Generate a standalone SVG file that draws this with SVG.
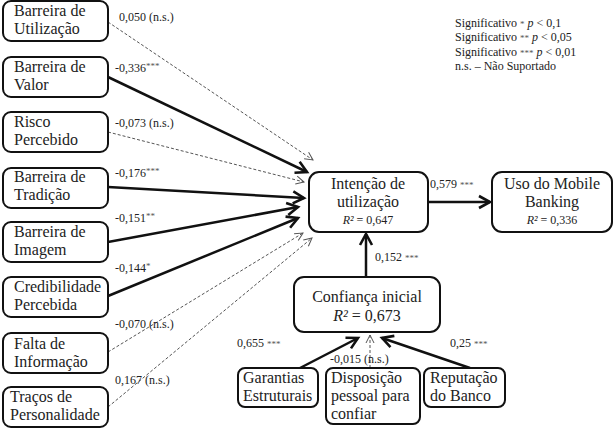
<svg xmlns="http://www.w3.org/2000/svg" width="616" height="435" viewBox="0 0 616 435" font-family="Liberation Serif, serif">
<defs>
<marker id="ah" markerUnits="userSpaceOnUse" markerWidth="16" markerHeight="16" refX="13" refY="7" orient="auto" viewBox="0 0 16 14">
<path d="M2,1 L13,7 L2,13" fill="none" stroke="#111" stroke-width="2.6" stroke-linejoin="miter"/>
</marker>
<marker id="ahd" markerUnits="userSpaceOnUse" markerWidth="12" markerHeight="12" refX="9" refY="5" orient="auto" viewBox="0 0 12 10">
<path d="M1,1 L9,5 L1,9" fill="none" stroke="#555" stroke-width="1"/>
</marker>
</defs>
<style>
text{font-family:'Liberation Serif',serif}
.box{fill:#fff;stroke:#111;stroke-width:2}
.t{font-size:16px;fill:#222}
.c{text-anchor:middle}
.l{font-size:12px;fill:#222}
.r{font-size:12px;fill:#222;text-anchor:middle}
.s{stroke:#111;stroke-width:2.5;fill:none;marker-end:url(#ah)}
.d{stroke:#555;stroke-width:1;stroke-dasharray:3,2;fill:none;marker-end:url(#ahd)}
.st{font-size:9px;fill:#555}
</style>
<rect width="616" height="435" fill="#fff"/>
<g id="connectors">
<line class="d" x1="108" y1="22" x2="313" y2="160"/>
<line class="s" x1="108" y1="77" x2="307" y2="172"/>
<line class="d" x1="108" y1="132" x2="304" y2="182"/>
<line class="s" x1="108" y1="187" x2="304" y2="198"/>
<line class="s" x1="108" y1="242" x2="298" y2="207"/>
<line class="s" x1="108" y1="296" x2="298" y2="218"/>
<line class="d" x1="108" y1="352" x2="303" y2="233"/>
<line class="d" x1="108" y1="407" x2="312" y2="238"/>
<line class="s" x1="428" y1="202" x2="490" y2="202"/>
<line class="s" x1="366" y1="277" x2="366" y2="234"/>
<line class="s" x1="300" y1="368" x2="358" y2="338"/>
<line class="s" x1="470" y1="368" x2="382" y2="338"/>
<line class="d" x1="370" y1="368" x2="370" y2="335"/>
<text class="l" x="119" y="21">0,050 (n.s.)</text>
<text class="l" x="115" y="72">-0,336<tspan class="st" dy="-3">***</tspan></text>
<text class="l" x="115" y="127">-0,073 (n.s.)</text>
<text class="l" x="115" y="177">-0,176<tspan class="st" dy="-3">***</tspan></text>
<text class="l" x="115" y="222">-0,151<tspan class="st" dy="-3">**</tspan></text>
<text class="l" x="115" y="272">-0,144<tspan class="st" dy="-3">*</tspan></text>
<text class="l" x="115" y="328">-0,070 (n.s.)</text>
<text class="l" x="115" y="384">0,167 (n.s.)</text>
<text class="l" x="430" y="188">0,579 <tspan class="st">***</tspan></text>
<text class="l" x="375" y="261">0,152 <tspan class="st">***</tspan></text>
<text class="l" x="237" y="347">0,655 <tspan class="st">***</tspan></text>
<text class="l" x="330" y="363">-0,015 (n.s.)</text>
<text class="l" x="450" y="347">0,25 <tspan class="st">***</tspan></text>
</g>
<g id="barreira-utilizacao"><rect class="box" x="3" y="1" width="105" height="40" rx="8"/><text class="t" x="14" y="16">Barreira de</text><text class="t" x="14" y="34">Utilização</text></g>
<g id="barreira-valor"><rect class="box" x="3" y="57" width="105" height="40" rx="8"/><text class="t" x="14" y="72">Barreira de</text><text class="t" x="14" y="90">Valor</text></g>
<g id="risco-percebido"><rect class="box" x="3" y="112" width="105" height="40" rx="8"/><text class="t" x="14" y="127">Risco</text><text class="t" x="14" y="145">Percebido</text></g>
<g id="barreira-tradicao"><rect class="box" x="3" y="168" width="105" height="40" rx="8"/><text class="t" x="14" y="182">Barreira de</text><text class="t" x="14" y="200">Tradição</text></g>
<g id="barreira-imagem"><rect class="box" x="3" y="222" width="105" height="40" rx="8"/><text class="t" x="14" y="237">Barreira de</text><text class="t" x="14" y="255">Imagem</text></g>
<g id="credibilidade"><rect class="box" x="3" y="277" width="105" height="40" rx="8"/><text class="t" x="14" y="292">Credibilidade</text><text class="t" x="14" y="310">Percebida</text></g>
<g id="falta-informacao"><rect class="box" x="3" y="333" width="105" height="40" rx="8"/><text class="t" x="14" y="349">Falta de</text><text class="t" x="14" y="367">Informação</text></g>
<g id="tracos-personalidade"><rect class="box" x="3" y="387" width="105" height="40" rx="8"/><text class="t" x="10" y="402">Traços de</text><text class="t" x="10" y="420">Personalidade</text></g>
<g id="intencao"><rect class="box" x="309" y="172" width="119" height="60" rx="10"/><text class="t c" x="368" y="189">Intenção de</text><text class="t c" x="368" y="207">utilização</text><text class="r" x="368" y="224"><tspan font-style="italic">R²</tspan> = 0,647</text></g>
<g id="uso-mobile"><rect class="box" x="492" y="172" width="120" height="60" rx="10"/><text class="t c" x="552" y="189">Uso do Mobile</text><text class="t c" x="552" y="207">Banking</text><text class="r" x="552" y="224"><tspan font-style="italic">R²</tspan> = 0,336</text></g>
<g id="confianca"><rect class="box" x="294" y="277" width="146" height="55" rx="10"/><text class="t c" x="367" y="302">Confiança inicial</text><text class="t c" x="367" y="321"><tspan font-style="italic">R²</tspan> = 0,673</text></g>
<g id="garantias"><rect class="box" x="238" y="368" width="80" height="39" rx="7"/><text class="t" x="243" y="383">Garantias</text><text class="t" x="243" y="401">Estruturais</text></g>
<g id="disposicao"><rect class="box" x="326" y="368" width="94" height="56" rx="7"/><text class="t" x="331" y="383">Disposição</text><text class="t" x="331" y="401">pessoal para</text><text class="t" x="331" y="419">confiar</text></g>
<g id="reputacao"><rect class="box" x="424" y="368" width="81" height="39" rx="7"/><text class="t" x="430" y="383">Reputação</text><text class="t" x="430" y="401">do Banco</text></g>
<g id="legend">
<text class="l" x="455" y="27">Significativo <tspan class="st">*</tspan> <tspan font-style="italic">p</tspan> &lt; 0,1</text>
<text class="l" x="455" y="41">Significativo <tspan class="st">**</tspan>  <tspan font-style="italic">p</tspan>  &lt; 0,05</text>
<text class="l" x="455" y="56">Significativo <tspan class="st">***</tspan>  <tspan font-style="italic">p</tspan> &lt; 0,01</text>
<text class="l" x="455" y="70">n.s. – Não Suportado</text>
</g>
</svg>
